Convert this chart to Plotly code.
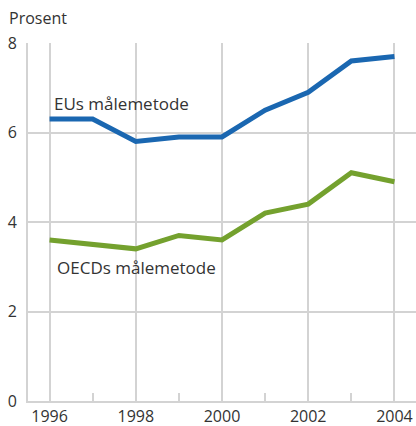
import plotly.graph_objects as go

years = [1996, 1997, 1998, 1999, 2000, 2001, 2002, 2003, 2004]
eu_values = [6.3, 6.3, 5.8, 5.9, 5.9, 6.5, 6.9, 7.6, 7.7]
oecd_values = [3.6, 3.5, 3.4, 3.7, 3.6, 4.2, 4.4, 5.1, 4.9]
eu_label = "EUs målemetode"
oecd_label = "OECDs målemetode"
y_title = "Prosent"

FONT = "Open Sans"
GRID = "#d3d3d3"
TXT = "#333333"

fig = go.Figure()
fig.add_trace(go.Scatter(x=years, y=eu_values, mode="lines",
                         line=dict(color="#1a67b1", width=5), showlegend=False,
                         hoverinfo="skip"))
fig.add_trace(go.Scatter(x=years, y=oecd_values, mode="lines",
                         line=dict(color="#74a12e", width=5), showlegend=False,
                         hoverinfo="skip"))

fig.add_annotation(x=1996.05, y=6.64, text=eu_label, showarrow=False,
                   xanchor="left", yanchor="middle", font=dict(size=17, color=TXT, family=FONT))
fig.add_annotation(x=1996.12, y=2.99, text=oecd_label, showarrow=False,
                   xanchor="left", yanchor="middle", font=dict(size=17, color=TXT, family=FONT))
fig.add_annotation(x=0, y=1, xref="paper", yref="paper", text=y_title, showarrow=False,
                   xanchor="left", yanchor="middle", xshift=-21, yshift=25,
                   font=dict(size=16, color=TXT, family=FONT))

fig.update_layout(
    width=416, height=426,
    margin=dict(l=28, r=0, t=43, b=25),
    plot_bgcolor="white", paper_bgcolor="white",
    font=dict(family=FONT, size=16, color=TXT),
    xaxis=dict(range=[1995.5, 2004.5], tickvals=[1996, 1998, 2000, 2002, 2004],
               showgrid=True, gridcolor=GRID, gridwidth=2,
               showline=True, linecolor=GRID, linewidth=2,
               ticks="", zeroline=False, automargin=False,
               minor=dict(tickvals=[1997, 1999, 2001, 2003], ticks="inside",
                          ticklen=8, tickcolor=GRID, tickwidth=2, showgrid=False),
               tickfont=dict(size=16, color=TXT)),
    yaxis=dict(range=[0, 8], tickvals=[0, 2, 4, 6, 8],
               showgrid=True, gridcolor=GRID, gridwidth=2,
               showline=True, linecolor=GRID, linewidth=2, automargin=False,
               zeroline=False, ticks="", ticklabelstandoff=6,
               tickfont=dict(size=16, color=TXT)),
)

fig.write_html("out.html", config={"displayModeBar": False})

with open("out.html", "r", encoding="utf-8") as f:
    html = f.read()
html = html.replace("<head>", "<head><style>html,body{margin:0;padding:0;overflow:hidden;}</style>", 1)
with open("out.html", "w", encoding="utf-8") as f:
    f.write(html)
